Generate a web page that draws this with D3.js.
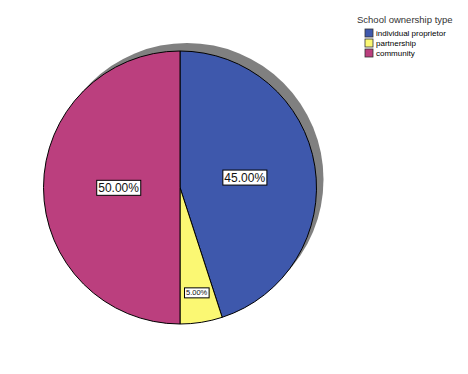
<!DOCTYPE html>
<html lang="en">
<head>
<meta charset="UTF-8">
<title>School ownership type</title>
<script src="https://cdn.jsdelivr.net/npm/d3@7"></script>
<style>
body { margin: 0; background: #fff; font-family: Arial, 'Liberation Sans', sans-serif; }
svg { display: block; }
</style>
</head>
<body>
<svg width="468" height="374"></svg>
<script>
// data
const categories = ["individual proprietor", "partnership", "community"];
const percents = [45, 5, 50];
const colors = ["#3E58AC", "#FBF873", "#BB3F7E"];
// how far out each label sits (fraction of radius) and its font size
const labelRadius = [0.48, 0.78, 0.45];
const labelFont = [12, 7.5, 12];

const svg = d3.select("svg");
const cx = 180, cy = 187.5, r = 136.5;

const pie = d3.pie().sort(null).value(d => d)(percents);
const arc = d3.arc().innerRadius(0).outerRadius(r);

// gray drop shadow behind the pie
svg.append("circle")
    .attr("cx", cx + 7).attr("cy", cy - 8).attr("r", r)
    .attr("fill", "#808080");

const g = svg.append("g").attr("transform", `translate(${cx},${cy})`);

g.selectAll("path.slice")
  .data(pie)
  .join("path")
    .attr("class", "slice")
    .attr("d", arc)
    .attr("fill", (d, i) => colors[i])
    .attr("stroke", "#000")
    .attr("stroke-width", 1);

// labels with boxes
pie.forEach((d, i) => {
    const lr = r * labelRadius[i];
    const [lx, ly] = d3.arc().innerRadius(lr).outerRadius(lr).centroid(d);
    const lg = g.append("g").attr("transform", `translate(${lx},${ly})`);
    const t = lg.append("text")
        .attr("text-anchor", "middle")
        .attr("dy", "0.36em")
        .attr("font-size", labelFont[i])
        .attr("fill", "#111")
        .text(d3.format(".2f")(percents[i]) + "%");
    const bb = t.node().getBBox();
    lg.insert("rect", "text")
        .attr("x", bb.x - 1.5).attr("y", bb.y - 0.5)
        .attr("width", bb.width + 3).attr("height", bb.height + 1)
        .attr("fill", "#fff")
        .attr("stroke", "#000")
        .attr("stroke-width", 1);
});

// legend
const legend = svg.append("g").attr("transform", "translate(357,0)");
legend.append("text")
    .attr("x", 0).attr("y", 23)
    .attr("font-size", 9.5)
    .attr("fill", "#333")
    .text("School ownership type");

const rowY = d3.scalePoint().domain(categories).range([33, 53]);
const items = legend.selectAll("g.item")
  .data(categories)
  .join("g")
    .attr("class", "item")
    .attr("transform", d => `translate(8,${rowY(d)})`);
items.append("rect")
    .attr("x", 0).attr("y", -4)
    .attr("width", 8).attr("height", 8)
    .attr("fill", (d, i) => colors[i])
    .attr("stroke", "#333")
    .attr("stroke-width", 0.8);
items.append("text")
    .attr("x", 11).attr("y", 0)
    .attr("dy", "0.35em")
    .attr("font-size", 8)
    .attr("fill", "#000")
    .text(d => d);
</script>
</body>
</html>
